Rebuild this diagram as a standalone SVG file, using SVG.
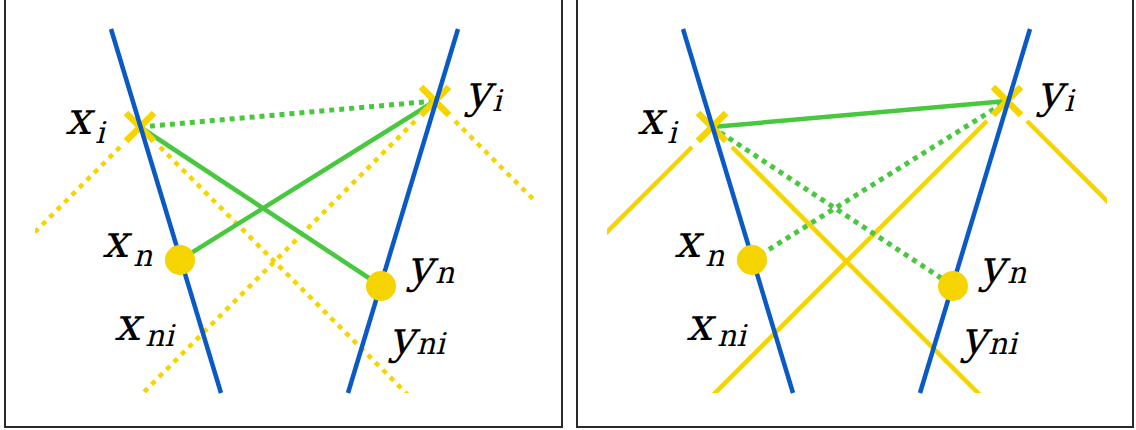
<svg xmlns="http://www.w3.org/2000/svg" width="1136" height="430" viewBox="0 0 1136 430">
<style>
.frame{fill:none;stroke:#2a2a2a;stroke-width:2}
.blue{stroke:#0a5ac6;stroke-width:4.5;fill:none}
.ysolid{stroke:#f5d400;stroke-width:4.5;fill:none}
.ydot{stroke:#f5d400;stroke-width:4.5;fill:none;stroke-dasharray:5 5.5}
.gsolid{stroke:#48c83e;stroke-width:4.5;fill:none}
.gdot{stroke:#48c83e;stroke-width:5;fill:none;stroke-dasharray:5 5}
.cross{stroke:#f5d400;stroke-width:6.5;fill:none}
.dot{fill:#f5d400}
</style>
<defs>
<clipPath id="clipL"><rect x="35" y="29" width="500" height="364"/></clipPath>
<clipPath id="clipR"><rect x="607" y="29" width="500" height="364"/></clipPath>
</defs>
<rect width="1136" height="430" fill="#fff"/>
<path class="frame" d="M5,-5 V427 H562 V-5"/>
<path class="frame" d="M577,-5 V427 H1133 V-5"/>

<g id="connectors">
<g clip-path="url(#clipL)">
<path class="ydot" d="M120,147 L0,267"/>
<path class="ydot" d="M160,147 L450,437"/>
<path class="ydot" d="M415,121 L100,436"/>
<path class="ydot" d="M455,121 L600,266"/>
<path class="gdot" d="M140,127 L435,101"/>
<path class="gsolid" d="M140,127 L381,286"/>
<path class="gsolid" d="M180,260 L435,101"/>
</g>
<g clip-path="url(#clipR)">
<path class="ysolid" d="M692,147 L572,267"/>
<path class="ysolid" d="M732,147 L1022,437"/>
<path class="ysolid" d="M987,121 L672,436"/>
<path class="ysolid" d="M1027,121 L1172,266"/>
<path class="gsolid" d="M712,127 L1007,101"/>
<path class="gdot" d="M712,127 L953,286"/>
<path class="gdot" d="M752,260 L1007,101"/>
</g>
</g>

<g id="left-xi"><path class="cross" d="M126,113 L154,141 M154,113 L126,141"/></g>
<g id="left-yi"><path class="cross" d="M421,87 L449,115 M449,87 L421,115"/></g>
<g id="right-xi"><path class="cross" d="M698,113 L726,141 M726,113 L698,141"/></g>
<g id="right-yi"><path class="cross" d="M993,87 L1021,115 M1021,87 L993,115"/></g>

<g id="left-x-line"><path class="blue" d="M111,29 L221,393"/></g>
<g id="left-y-line"><path class="blue" d="M458,29 L348,393"/></g>
<g id="right-x-line"><path class="blue" d="M683,29 L793,393"/></g>
<g id="right-y-line"><path class="blue" d="M1030,29 L920,393"/></g>

<g id="left-xn"><circle class="dot" cx="180" cy="260" r="15"/></g>
<g id="left-yn"><circle class="dot" cx="381" cy="286" r="15"/></g>
<g id="right-xn"><circle class="dot" cx="752" cy="260" r="15"/></g>
<g id="right-yn"><circle class="dot" cx="953" cy="286" r="15"/></g>

<g id="left-labels" font-family="DejaVu Serif, serif" fill="#000">
<text font-size="46" transform="translate(65,134) skewX(-14)">x</text>
<text font-size="30" transform="translate(95,143) skewX(-14)">i</text>
<text font-size="46" transform="translate(465,107) skewX(-14)">y</text>
<text font-size="30" transform="translate(492,111) skewX(-14)">i</text>
<text font-size="46" transform="translate(102,257) skewX(-14)">x</text>
<text font-size="30" transform="translate(133,266) skewX(-14)">n</text>
<text font-size="46" transform="translate(407,282) skewX(-14)">y</text>
<text font-size="30" transform="translate(435,283) skewX(-14)">n</text>
<text font-size="46" transform="translate(114,340) skewX(-14)">x</text>
<text font-size="30" transform="translate(145,346) skewX(-14)">ni</text>
<text font-size="46" transform="translate(389,353) skewX(-14)">y</text>
<text font-size="30" transform="translate(416,354) skewX(-14)">ni</text>
</g>
<g id="right-labels" font-family="DejaVu Serif, serif" fill="#000">
<text font-size="46" transform="translate(637,134) skewX(-14)">x</text>
<text font-size="30" transform="translate(667,143) skewX(-14)">i</text>
<text font-size="46" transform="translate(1037,107) skewX(-14)">y</text>
<text font-size="30" transform="translate(1064,111) skewX(-14)">i</text>
<text font-size="46" transform="translate(674,257) skewX(-14)">x</text>
<text font-size="30" transform="translate(705,266) skewX(-14)">n</text>
<text font-size="46" transform="translate(979,282) skewX(-14)">y</text>
<text font-size="30" transform="translate(1007,283) skewX(-14)">n</text>
<text font-size="46" transform="translate(686,340) skewX(-14)">x</text>
<text font-size="30" transform="translate(717,346) skewX(-14)">ni</text>
<text font-size="46" transform="translate(961,353) skewX(-14)">y</text>
<text font-size="30" transform="translate(988,354) skewX(-14)">ni</text>
</g>
</svg>
